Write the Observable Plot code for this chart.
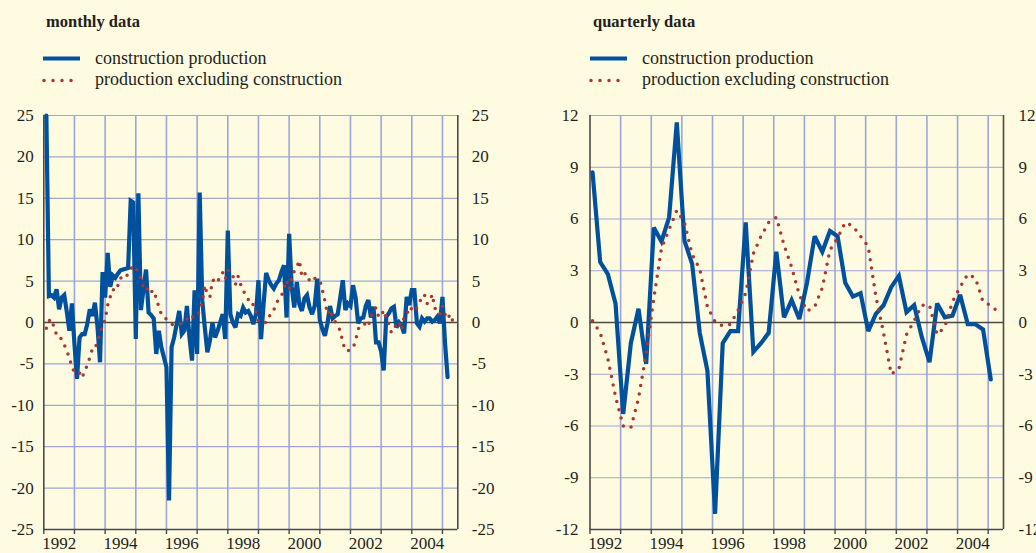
<!DOCTYPE html>
<html><head><meta charset="utf-8">
<script src="https://cdn.jsdelivr.net/npm/d3@7"></script>
<script src="https://cdn.jsdelivr.net/npm/@observablehq/plot@0.6"></script>
<style>
html,body{margin:0;padding:0;background:#fefbe0;}
#page{position:relative;width:1036px;height:553px;overflow:hidden;background:#fefbe0;}
.panel{position:absolute;top:0;width:518px;height:553px;}
.head{position:absolute;top:0;left:0;}
.chart{position:absolute;top:100px;left:0;}
</style></head><body><div id="page"></div>
<script>
// ---- data ----
const startYear = 1992;
const yearBoundaries = [1992,1993,1994,1995,1996,1997,1998,1999,2000,2001,2002,2003,2004,2005];
const yearLabels = [1992,1994,1996,1998,2000,2002,2004];
const monthlyTicks = [-25,-20,-15,-10,-5,0,5,10,15,20,25];
const quarterlyTicks = [-12,-9,-6,-3,0,3,6,9,12];
const seriesNames = ["construction production", "production excluding construction"];

// monthly, Jan 1992 onward
const constructionMonthly = [
  25,3.2,3.3,3.0,4.0,1.6,3.0,3.3,1.3,-1.0,2.3,-2.6,
  -6.8,-1.8,-1.4,-1.4,-0.2,1.6,0.8,2.4,-0.5,-4.8,6.1,3.0,
  8.4,4.3,5.7,5.4,5.9,6.3,6.4,6.5,6.6,14.7,14.5,-2.0,
  15.6,1.5,4.0,6.4,1.2,0.9,0.5,-3.8,-1.0,-3.0,-4.2,-5.4,
  -21.5,-3.0,-1.8,-0.2,1.4,-1.4,-1.0,2.0,-1.8,-4.6,3.9,-3.8,
  15.7,2.7,-0.6,-3.6,-2.2,0.0,-1.8,-1.0,0.0,1.0,-2.0,11.1,
  1.0,0.0,-0.6,1.0,0.8,1.8,1.2,1.4,0.8,-0.2,1.0,5.1,
  -2.0,2.2,6.0,5.1,4.5,4.1,4.7,5.1,6.1,6.9,0.6,10.7,
  4.3,1.8,4.9,2.2,1.4,2.9,3.3,1.8,1.0,2.0,5.3,0.3,
  -0.8,-1.6,-0.1,2.0,0.5,0.8,1.0,3.0,5.1,1.5,2.3,2.0,
  4.5,3.0,-0.1,0.5,0.6,2.0,2.7,0.6,1.9,-2.4,-2.4,-3.5,
  -5.8,0.7,1.1,1.7,1.9,-0.6,0.0,-0.4,-1.3,3.1,2.1,3.9,
  3.9,-0.1,-0.5,0.5,0.1,0.5,0.5,0.1,0.3,0.7,-0.1,3.1,
  -2.5,-6.6
];
const exConstructionMonthly = [
  -0.7,0.2,0.4,-0.6,-1.5,-1.5,-2.1,-2.7,-3.4,-4.3,-5.3,-6.1,
  -6.1,-6.1,-6.7,-5.8,-5.2,-4.2,-3.2,-3.2,-2.2,-1.4,-0.2,0.3,
  2.1,3.1,4.0,3.8,4.5,5.4,5.3,5.3,6.0,6.5,6.7,6.8,
  5.8,5.3,4.3,4.5,3.5,3.7,3.9,2.9,1.9,1.0,0.6,0.4,
  0.1,-0.2,-0.3,-0.2,-0.2,-0.1,0.0,0.4,0.9,0.7,0.6,0.7,
  1.5,2.4,4.5,3.3,3.1,5.1,5.1,4.8,5.8,6.0,5.2,6.3,
  6.2,5.6,4.6,5.6,4.6,4.0,3.1,2.8,2.1,2.2,1.3,0.1,
  0.1,0.0,0.0,0.5,1.3,1.5,2.4,2.8,3.2,4.2,5.1,4.0,
  5.5,6.2,6.7,7.5,5.5,5.9,5.9,5.0,4.9,5.3,5.3,5.1,
  3.9,2.6,1.0,1.6,0.6,0.1,-0.4,-1.0,-2.4,-3.4,-3.4,-3.3,
  -3.1,-2.2,-0.8,-0.4,-0.4,0.0,-0.4,0.6,1.5,1.8,0.7,0.7,
  1.5,0.5,-0.2,-1.2,-1.0,0.0,0.0,-0.9,0.7,0.9,1.9,1.6,
  1.3,1.8,2.3,3.3,3.3,2.3,2.5,3.4,1.7,1.6,1.0,2.0,
  1.0,0.4,1.0,0.2
];
// quarterly, Q1 1992 onward
const constructionQuarterly = [
  8.7,3.5,2.8,1.1,-5.3,-1.2,0.8,-2.4,5.5,4.7,6.1,11.6,
  4.75,3.4,-0.6,-2.8,-11.1,-1.2,-0.5,-0.5,5.8,-1.7,-1.2,-0.6,
  4.1,0.3,1.3,0.2,2.3,5.0,4.1,5.3,5.0,2.3,1.5,1.7,
  -0.5,0.5,1.0,2.05,2.7,0.6,1.0,-0.85,-2.3,1.1,0.3,0.4,
  1.6,-0.1,-0.1,-0.4,-3.3
];
const exConstructionQuarterly = [
  0.1,-0.6,-2.1,-4.3,-6.0,-6.1,-4.4,-1.8,1.4,4.3,5.4,6.5,
  5.8,3.95,3.1,0.9,0.05,-0.2,-0.1,0.7,1.7,4.0,5.0,5.8,
  6.1,4.5,3.2,1.6,0.66,0.9,2.0,4.2,4.9,5.8,5.6,5.0,
  4.4,1.5,-0.6,-3.0,-2.7,-0.7,0.1,1.0,1.0,-0.7,-0.25,1.2,
  2.05,2.8,2.57,1.2,1.0,0.6
];

// ---- styling ----
const blue = "#00519d";
const red = "#a8372f";
const grid = "#9ba7d9";
const axisCol = "#4a4a4a";
const textCol = "#231f20";
const font = "'Liberation Serif','Times New Roman',serif";

const monthlyRows = (arr) => arr.map((v, i) => ({t: startYear + (i + 1) / 12, v}));
const quarterlyRows = (arr) => arr.map((v, i) => ({t: startYear + (3 * i + 1) / 12, v}));

const NS = "http://www.w3.org/2000/svg";
function el(name, attrs, text) {
  const e = document.createElementNS(NS, name);
  for (const k in attrs) e.setAttribute(k, attrs[k]);
  if (text != null) e.textContent = text;
  return e;
}

function header(title, x0) {
  const svg = el("svg", {width: 518, height: 100, viewBox: "0 0 518 100"});
  svg.style.fontFamily = font;
  svg.appendChild(el("text", {x: x0 + 3, y: 27, "font-size": 16.5, "font-weight": "bold", fill: textCol}, title));
  svg.appendChild(el("line", {x1: x0, x2: x0 + 37, y1: 58.5, y2: 58.5, stroke: blue, "stroke-width": 4}));
  svg.appendChild(el("text", {x: x0 + 52, y: 64, "font-size": 18, fill: textCol}, seriesNames[0]));
  svg.appendChild(el("line", {x1: x0 + 1, x2: x0 + 37, y1: 80.5, y2: 80.5, stroke: red, "stroke-width": 3.5,
    "stroke-dasharray": "0 9", "stroke-linecap": "round"}));
  svg.appendChild(el("text", {x: x0 + 52, y: 85, "font-size": 18, fill: textCol}, seriesNames[1]));
  return svg;
}

const numFmt = d => String(d);

function chart({ticks, constr, exc, mL, mR, padL, padR}) {
  const lo = ticks[0], hi = ticks[ticks.length - 1];
  return Plot.plot({
    width: 518, height: 453,
    marginTop: 15, marginBottom: 24, marginLeft: mL, marginRight: mR,
    x: {domain: [1992, 2005.5], axis: null},
    y: {domain: [lo, hi], axis: null},
    style: {background: "transparent", fontFamily: font, fontSize: "17px", color: textCol, overflow: "visible"},
    marks: [
      Plot.ruleY(ticks, {stroke: grid, strokeWidth: 1.2}),
      Plot.ruleX(yearBoundaries.slice(1), {stroke: grid, strokeWidth: 1.6}),
      Plot.ruleY([0], {stroke: axisCol, strokeWidth: 1.3}),
      Plot.ruleX([1992, 2005.5], {stroke: axisCol, strokeWidth: 1.6}),
      Plot.ruleY([lo], {stroke: axisCol, strokeWidth: 1.6}),
      Plot.axisY(ticks, {anchor: "left", label: null, tickSize: 0, tickPadding: padL, fontSize: 17, fill: textCol, tickFormat: numFmt}),
      Plot.axisY(ticks, {anchor: "right", label: null, tickSize: 0, tickPadding: padR, fontSize: 17, fill: textCol, tickFormat: numFmt}),
      Plot.axisX(yearBoundaries, {anchor: "bottom", label: null, tickSize: 5, tickFormat: () => "", stroke: axisCol, strokeWidth: 1.4}),
      Plot.axisX(yearLabels.map(y => y + 0.5), {anchor: "bottom", label: null, tickSize: 0, tickPadding: 7, fontSize: 17,
        fill: textCol, tickFormat: d => String(Math.floor(d))}),
      Plot.line(constr, {x: "t", y: "v", stroke: blue, strokeWidth: 4.2, strokeLinejoin: "miter", strokeMiterlimit: 3}),
      Plot.line(exc, {x: "t", y: "v", stroke: red, strokeWidth: 3.5, strokeDasharray: "0 8.5", strokeLinecap: "round"})
    ]
  });
}

const page = document.getElementById("page");
function addPanel(left, title, x0, plotEl) {
  const p = document.createElement("div");
  p.className = "panel";
  p.style.left = left + "px";
  const h = document.createElement("div");
  h.className = "head";
  h.appendChild(header(title, x0));
  const c = document.createElement("div");
  c.className = "chart";
  c.appendChild(plotEl);
  p.appendChild(h);
  p.appendChild(c);
  page.appendChild(p);
}

addPanel(0, "monthly data", 43, chart({
  ticks: monthlyTicks, constr: monthlyRows(constructionMonthly), exc: monthlyRows(exConstructionMonthly),
  mL: 43.3, mR: 60.7, padL: 10, padR: 14
}));
addPanel(518, "quarterly data", 72, chart({
  ticks: quarterlyTicks, constr: quarterlyRows(constructionQuarterly), exc: quarterlyRows(exConstructionQuarterly),
  mL: 71.5, mR: 33, padL: 11.5, padR: 15
}));
</script></body></html>
